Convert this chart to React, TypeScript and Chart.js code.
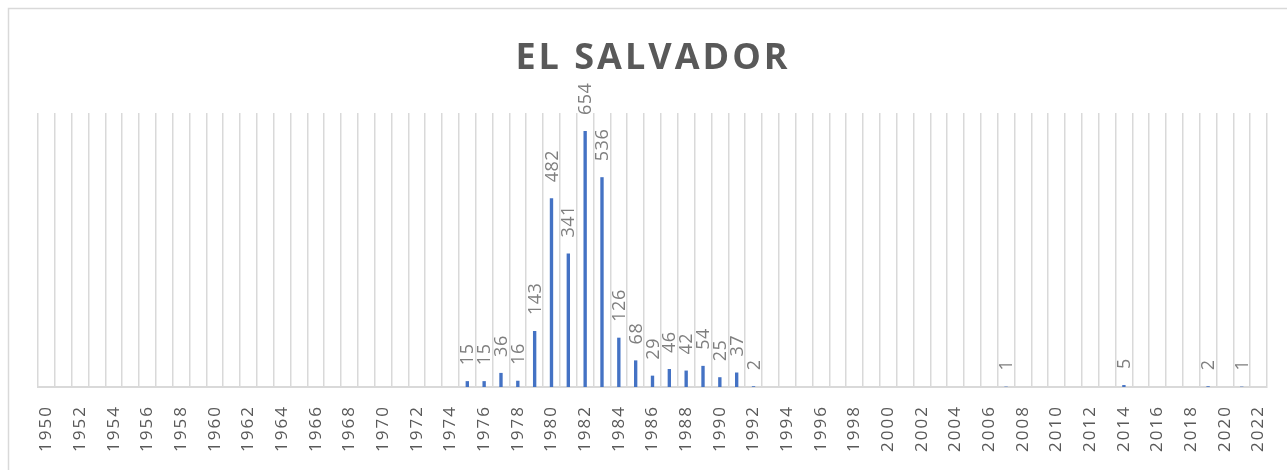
import React, { useEffect, useRef } from "react";
import { Chart, registerables } from "chart.js";

Chart.register(...registerables);

const TITLE = "EL SALVADOR";
const FIRST_YEAR = 1950;
const LAST_YEAR = 2022;
const eventYears = [1975, 1976, 1977, 1978, 1979, 1980, 1981, 1982, 1983, 1984, 1985, 1986, 1987, 1988, 1989, 1990, 1991, 1992, 2007, 2014, 2019, 2021];
const eventCounts = [15, 15, 36, 16, 143, 482, 341, 654, 536, 126, 68, 29, 46, 42, 54, 25, 37, 2, 1, 5, 2, 1];

const categories: string[] = [];
for (let y = FIRST_YEAR; y <= LAST_YEAR; y++) categories.push(String(y));
const seriesValues: (number | null)[] = categories.map((c) => {
  const i = eventYears.indexOf(Number(c));
  return i >= 0 ? eventCounts[i] : null;
});

const FONT = "'Open Sans', 'DejaVu Sans', sans-serif";

const decorPlugin = {
  id: "decor",
  beforeDraw(chart: any) {
    const ctx = chart.ctx;
    ctx.save();
    ctx.strokeStyle = "#d9d9d9";
    ctx.lineWidth = 1.5;
    ctx.beginPath();
    ctx.moveTo(8.5, 470);
    ctx.lineTo(8.5, 8.5);
    ctx.lineTo(1287, 8.5);
    ctx.stroke();
    // title
    ctx.fillStyle = "#595959";
    ctx.font = `bold 36px ${FONT}`;
    (ctx as any).letterSpacing = "3px";
    ctx.textAlign = "center";
    ctx.textBaseline = "alphabetic";
    ctx.fillText(TITLE, 653, 69);
    ctx.restore();
  },
  afterDatasetsDraw(chart: any) {
    const ctx = chart.ctx;
    const meta = chart.getDatasetMeta(0);
    const xScale = chart.scales.x;
    ctx.save();
    // data labels
    ctx.fillStyle = "#7f7f7f";
    ctx.font = `18px ${FONT}`;
    (ctx as any).letterSpacing = "0.5px";
    ctx.textAlign = "left";
    ctx.textBaseline = "middle";
    meta.data.forEach((el: any, i: number) => {
      const v = seriesValues[i];
      if (v === null || v === undefined) return;
      ctx.save();
      ctx.translate(el.x + 1, el.y - 16);
      ctx.rotate(-Math.PI / 2);
      ctx.fillText(String(v), 0, 0);
      ctx.restore();
    });
    // x tick labels
    ctx.fillStyle = "#595959";
    ctx.font = `17px ${FONT}`;
    (ctx as any).letterSpacing = "2px";
    ctx.textAlign = "right";
    ctx.textBaseline = "middle";
    categories.forEach((c, i) => {
      if ((Number(c) - FIRST_YEAR) % 2 !== 0) return;
      const x = xScale.getPixelForValue(i);
      ctx.save();
      ctx.translate(x, 405);
      ctx.rotate(-Math.PI / 2);
      ctx.fillText(c, 0, 0);
      ctx.restore();
    });
    ctx.restore();
  },
};

export default function App() {
  const ref = useRef<HTMLCanvasElement | null>(null);
  useEffect(() => {
    if (!ref.current) return;
    const chart = new Chart(ref.current, {
      type: "bar",
      data: {
        labels: categories,
        datasets: [
          {
            data: seriesValues,
            backgroundColor: "#4472C4",
            barPercentage: 0.2,
            categoryPercentage: 1,
          },
        ],
      },
      options: {
        animation: false,
        responsive: false,
        devicePixelRatio: 1,
        layout: { padding: { left: 38, right: 20, top: 113, bottom: 83 } },
        plugins: { legend: { display: false }, tooltip: { enabled: false }, title: { display: false } },
        scales: {
          x: {
            display: true,
            grid: { display: true, color: "#d9d9d9", lineWidth: 1.5, drawTicks: false, offset: true },
            border: { display: true, color: "#d9d9d9", width: 2 },
            ticks: { display: false },
          },
          y: { display: false, min: 0, max: 700 },
        },
      },
      plugins: [decorPlugin],
    });
    return () => chart.destroy();
  }, []);
  return (
    <div style={{ position: "absolute", left: 0, top: 0, width: 1287, height: 470, background: "#fff" }}>
      <canvas ref={ref} width={1287} height={470} style={{ display: "block" }} />
    </div>
  );
}
